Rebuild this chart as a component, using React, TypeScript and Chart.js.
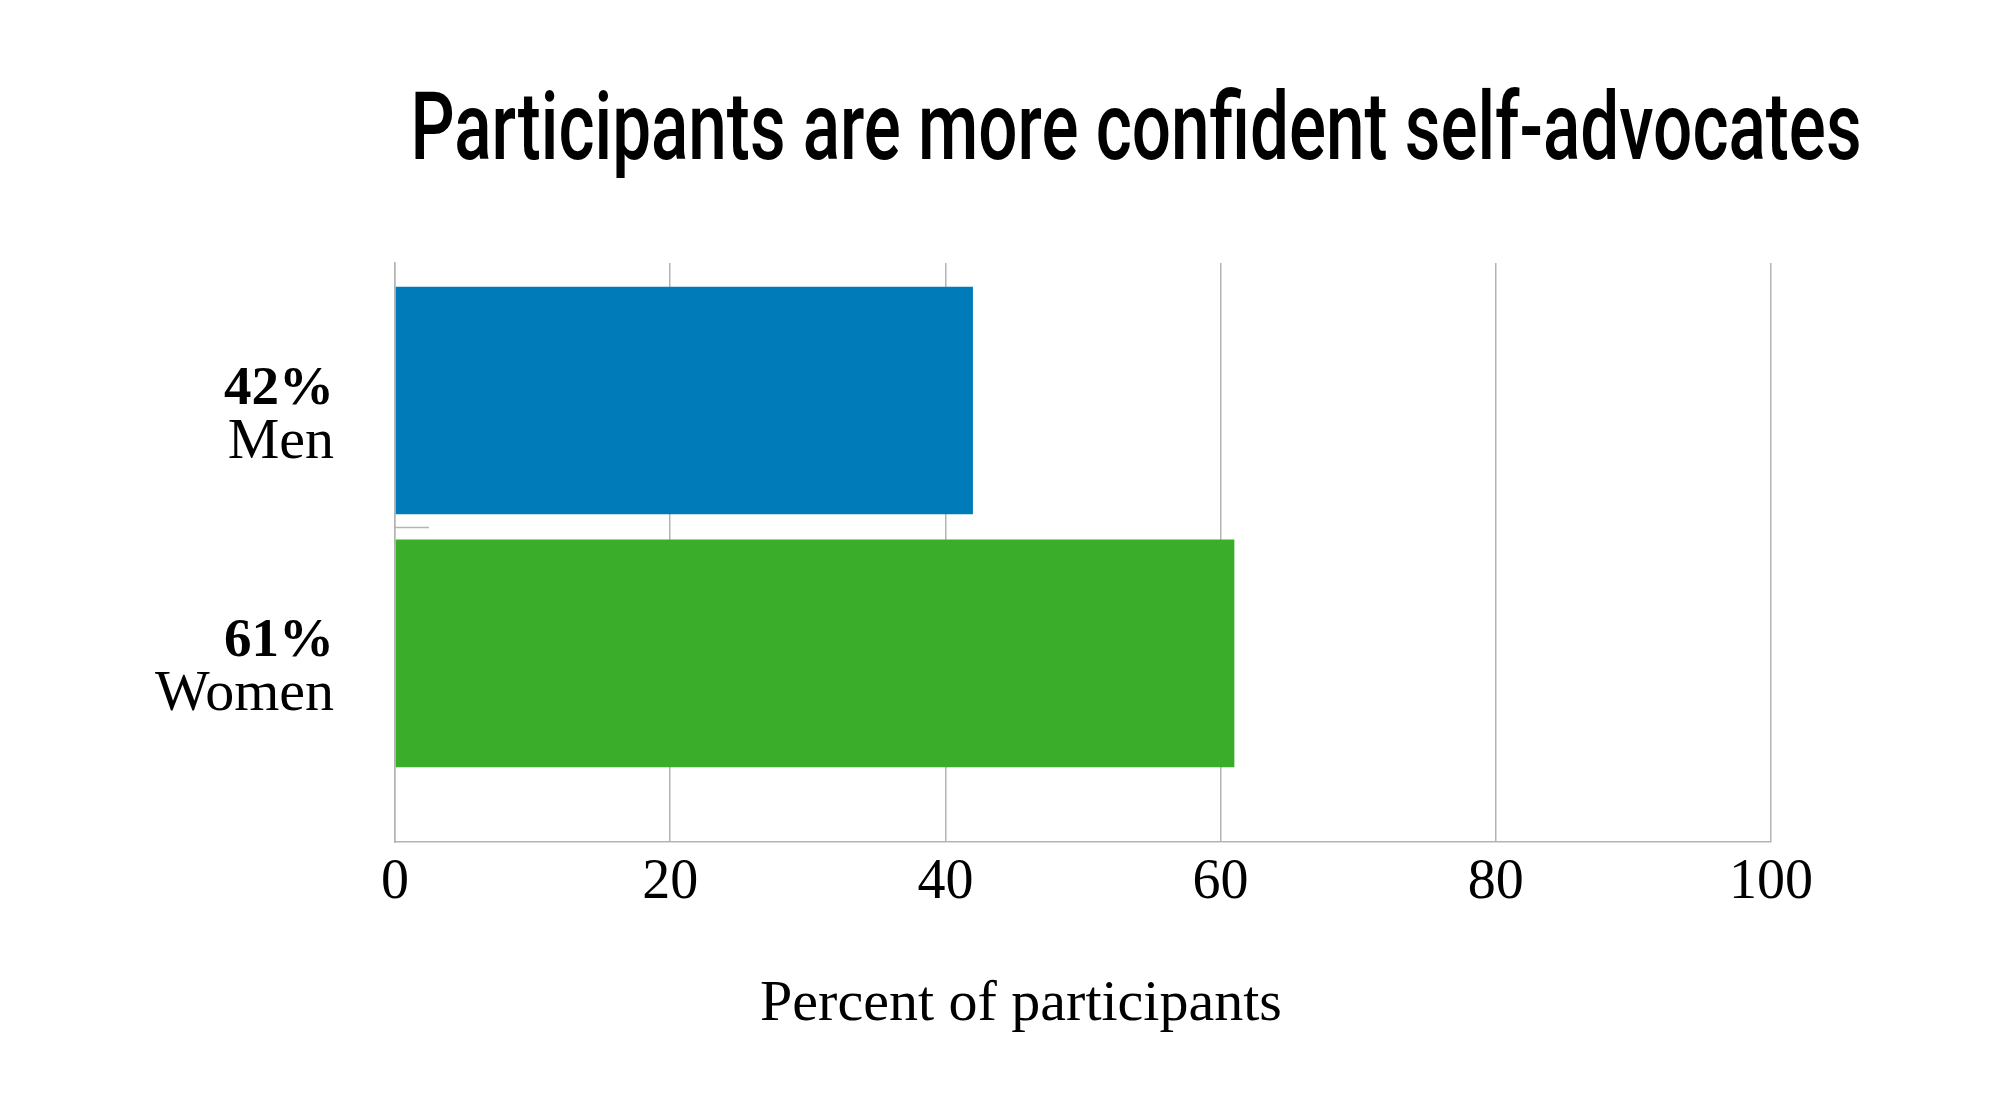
import { useEffect, useRef } from "react"
import { Chart, registerables } from "chart.js"

Chart.register(...registerables)

const title = "Participants are more confident self-advocates"
const categories = ["Men", "Women"]
const shares = ["42%", "61%"]
const values = [42, 61]
const xTicks = [0, 20, 40, 60, 80, 100]
const axisTitle = "Percent of participants"

const BAR_COLORS = ["#007bba", "#3aae2b"]
const GRID = "#b3b3b3"
const SERIF = "'Liberation Serif', 'Times New Roman', serif"

// draws the condensed headline, the two-line category labels, the axis title
// and the little stub between the two bars
const textPlugin = {
  id: "textPlugin",
  afterDraw(chart: any) {
    const { ctx, scales } = chart
    const x = scales.x
    const y = scales.y

    ctx.save()
    ctx.fillStyle = "#000"
    ctx.font = "500 94px Roboto"
    const w = ctx.measureText(title).width
    ctx.translate(1136, 159)
    ctx.scale(1451 / w, 1)
    ctx.textAlign = "center"
    ctx.textBaseline = "alphabetic"
    ctx.fillText(title, 0, 0)
    ctx.restore()

    ctx.save()
    ctx.fillStyle = "#000"
    ctx.textAlign = "right"
    ctx.textBaseline = "alphabetic"
    categories.forEach((name, i) => {
      const py = y.getPixelForValue(i)
      ctx.font = `bold 55px ${SERIF}`
      ctx.fillText(shares[i], x.left - 61, py + 3)
      ctx.font = `58px ${SERIF}`
      ctx.fillText(name, x.left - 61, py + 57)
    })

    ctx.textAlign = "center"
    ctx.font = `58px ${SERIF}`
    ctx.fillText(axisTitle, (x.left + x.right) / 2 - 62, 1020)

    ctx.strokeStyle = GRID
    ctx.lineWidth = 1.5
    for (let i = 0; i < categories.length - 1; i++) {
      const py = Math.round(y.getPixelForValue(i + 0.5)) + 0.5
      ctx.beginPath()
      ctx.moveTo(x.left, py)
      ctx.lineTo(x.left + 34, py)
      ctx.stroke()
    }
    ctx.restore()
  },
}

export default function App() {
  const chartRef = useRef<HTMLCanvasElement>(null)
  const chartInstance = useRef<Chart | null>(null)

  useEffect(() => {
    if (!chartRef.current) return
    if (chartInstance.current) chartInstance.current.destroy()

    const ctx = chartRef.current.getContext("2d")
    if (!ctx) return

    chartInstance.current = new Chart(ctx, {
      type: "bar",
      data: {
        datasets: [
          {
            label: "Participants",
            data: values.map((v, i) => ({ x: v, y: i })),
            backgroundColor: BAR_COLORS,
            borderWidth: 0,
            barPercentage: 0.9,
            categoryPercentage: 1,
          },
        ],
      },
      options: {
        indexAxis: "y",
        animation: false,
        responsive: true,
        maintainAspectRatio: false,
        layout: { padding: { top: 263, right: 229, bottom: 0, left: 0 } },
        plugins: {
          legend: { display: false },
          tooltip: { enabled: false },
        },
        scales: {
          x: {
            type: "linear",
            min: xTicks[0],
            max: xTicks[xTicks.length - 1],
            afterBuildTicks: (scale: any) => {
              scale.ticks = xTicks.map((v) => ({ value: v }))
            },
            afterFit: (scale: any) => {
              scale.height = 268
            },
            grid: { color: GRID, lineWidth: 1.5, drawTicks: false },
            border: { color: GRID, width: 1.5 },
            ticks: {
              color: "#000",
              padding: 13,
              font: { family: SERIF, size: 56, lineHeight: 1 },
            },
          },
          y: {
            type: "linear",
            offset: false,
            grace: 0,
            reverse: true,
            min: -0.544,
            max: 1.746,
            afterDataLimits: (scale: any) => {
              scale.min = -0.544
              scale.max = 1.746
            },
            afterBuildTicks: (scale: any) => {
              scale.ticks = categories.map((_, i) => ({ value: i }))
              scale.min = -0.544
              scale.max = 1.746
            },
            afterFit: (scale: any) => {
              scale.width = 395
            },
            grid: { display: false, drawTicks: false, offset: false },
            border: { color: GRID, width: 1.5 },
            ticks: { display: false },
          },
        },
      },
      plugins: [textPlugin],
    } as any)

    return () => {
      if (chartInstance.current) {
        chartInstance.current.destroy()
        chartInstance.current = null
      }
    }
  }, [])

  return (
    <div style={{ position: "fixed", left: 0, top: 0, width: 2000, height: 1110, background: "#fff" }}>
      <canvas ref={chartRef} />
    </div>
  )
}
